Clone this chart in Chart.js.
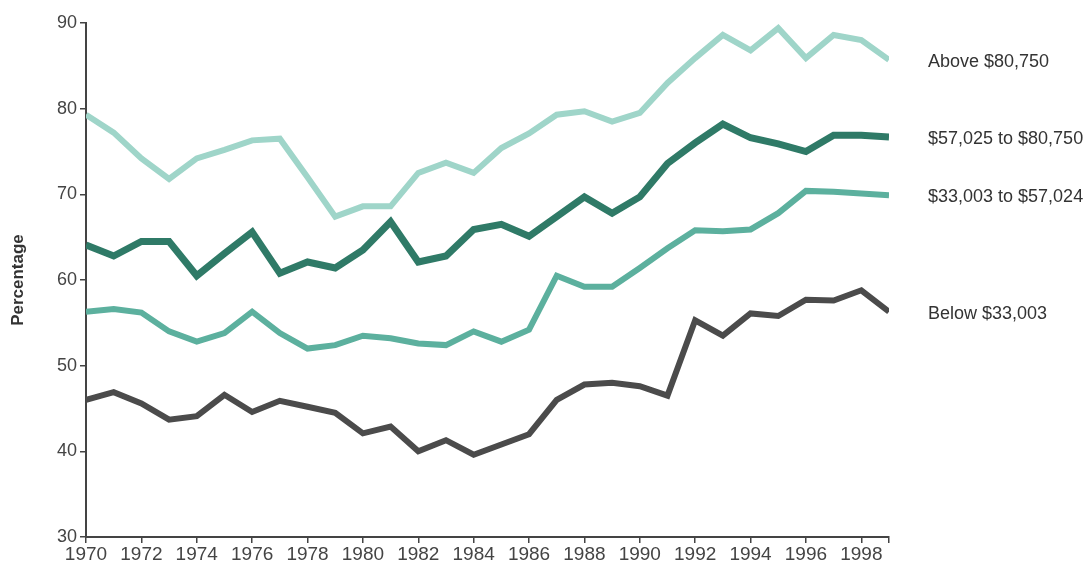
<!DOCTYPE html>
<html>
<head>
<meta charset="utf-8">
<script src="https://cdn.jsdelivr.net/npm/chart.js@4/dist/chart.umd.min.js"></script>
<style>
html,body{margin:0;padding:0;background:#fff;}
#wrap{width:1092px;height:576px;position:relative;}
</style>
</head>
<body>
<div id="wrap"><canvas id="c" width="1092" height="576"></canvas></div>
<script>
const years = [1970,1971,1972,1973,1974,1975,1976,1977,1978,1979,1980,1981,1982,1983,1984,1985,1986,1987,1988,1989,1990,1991,1992,1993,1994,1995,1996,1997,1998,1999];
const seriesNames = ["Above $80,750", "$57,025 to $80,750", "$33,003 to $57,024", "Below $33,003"];
const above80750 = [79.3,77.2,74.2,71.8,74.2,75.2,76.3,76.5,72.0,67.4,68.6,68.6,72.5,73.7,72.5,75.4,77.1,79.3,79.7,78.5,79.5,83.0,85.9,88.6,86.8,89.4,85.9,88.6,88.0,85.7];
const mid57025 = [64.1,62.8,64.5,64.5,60.5,63.1,65.6,60.8,62.1,61.4,63.5,66.8,62.1,62.8,65.9,66.5,65.1,67.4,69.7,67.8,69.7,73.6,76.0,78.2,76.6,75.9,75.0,76.9,76.9,76.7];
const mid33003 = [56.3,56.6,56.2,54.0,52.8,53.8,56.3,53.8,52.0,52.4,53.5,53.2,52.6,52.4,54.0,52.8,54.2,60.5,59.2,59.2,61.4,63.7,65.8,65.7,65.9,67.8,70.4,70.3,70.1,69.9];
const below33003 = [46.0,46.9,45.6,43.7,44.1,46.6,44.6,45.9,45.2,44.5,42.1,42.9,40.0,41.3,39.6,40.8,42.0,46.0,47.8,48.0,47.6,46.5,55.3,53.5,56.1,55.8,57.7,57.6,58.8,56.3];
const yTicks = [30,40,50,60,70,80,90];

const colors = ["#9fd5c9", "#2f7a67", "#5cb09e", "#4b4b4b"];
const widths = [6, 7, 6, 6];
const allValues = [above80750, mid57025, mid33003, below33003];
const FONT = '"Liberation Sans", Arial, sans-serif';

const endLabels = {
  id: 'endLabels',
  afterDatasetsDraw(chart) {
    const ctx = chart.ctx;
    const ys = chart.scales.y;
    ctx.save();
    ctx.font = '18px ' + FONT;
    ctx.fillStyle = '#333';
    ctx.textAlign = 'left';
    ctx.textBaseline = 'middle';
    chart.data.datasets.forEach(ds => {
      const last = ds.data[ds.data.length - 1];
      ctx.fillText(ds.label, 928, ys.getPixelForValue(last.y) + 2);
    });
    ctx.restore();
  }
};

new Chart(document.getElementById('c'), {
  type: 'line',
  data: {
    datasets: seriesNames.map((name, i) => ({
      label: name,
      data: years.map((yr, j) => ({x: yr, y: allValues[i][j]})),
      borderColor: colors[i],
      backgroundColor: colors[i],
      borderWidth: widths[i],
      pointRadius: 0,
      tension: 0,
      borderJoinStyle: 'miter',
      borderCapStyle: 'butt',
      fill: false
    }))
  },
  options: {
    responsive: false,
    animation: false,
    devicePixelRatio: 1,
    layout: {padding: {left: 0, right: 203, top: 23, bottom: 0}},
    plugins: {legend: {display: false}, tooltip: {enabled: false}},
    scales: {
      x: {
        type: 'linear',
        min: 1970,
        max: 1999,
        afterBuildTicks: s => { s.ticks = years.filter(y => y % 2 === 0 || y === 1999).map(v => ({value: v})); },
        afterFit: s => { s.height = 39; },
        ticks: {
          autoSkip: false,
          maxRotation: 0,
          padding: 0,
          color: '#444',
          font: {family: FONT, size: 19},
          callback: v => (v % 2 === 0 ? String(v) : '')
        },
        grid: {drawOnChartArea: false, drawTicks: true, tickLength: 6, color: '#444', lineWidth: 1.5},
        border: {display: true, color: '#444', width: 2}
      },
      y: {
        min: 30,
        max: 90,
        afterBuildTicks: s => { s.ticks = yTicks.map(v => ({value: v})); },
        afterFit: s => { s.width = 86; },
        ticks: {
          padding: 3,
          color: '#444',
          font: {family: FONT, size: 18}
        },
        grid: {drawOnChartArea: false, drawTicks: true, tickLength: 6, color: '#444', lineWidth: 1.5},
        border: {display: true, color: '#444', width: 2},
        title: {
          display: true,
          text: 'Percentage',
          color: '#333',
          padding: {top: 8, bottom: 0},
          font: {family: FONT, size: 17, weight: 'bold'}
        }
      }
    }
  },
  plugins: [endLabels]
});
</script>
</body>
</html>
